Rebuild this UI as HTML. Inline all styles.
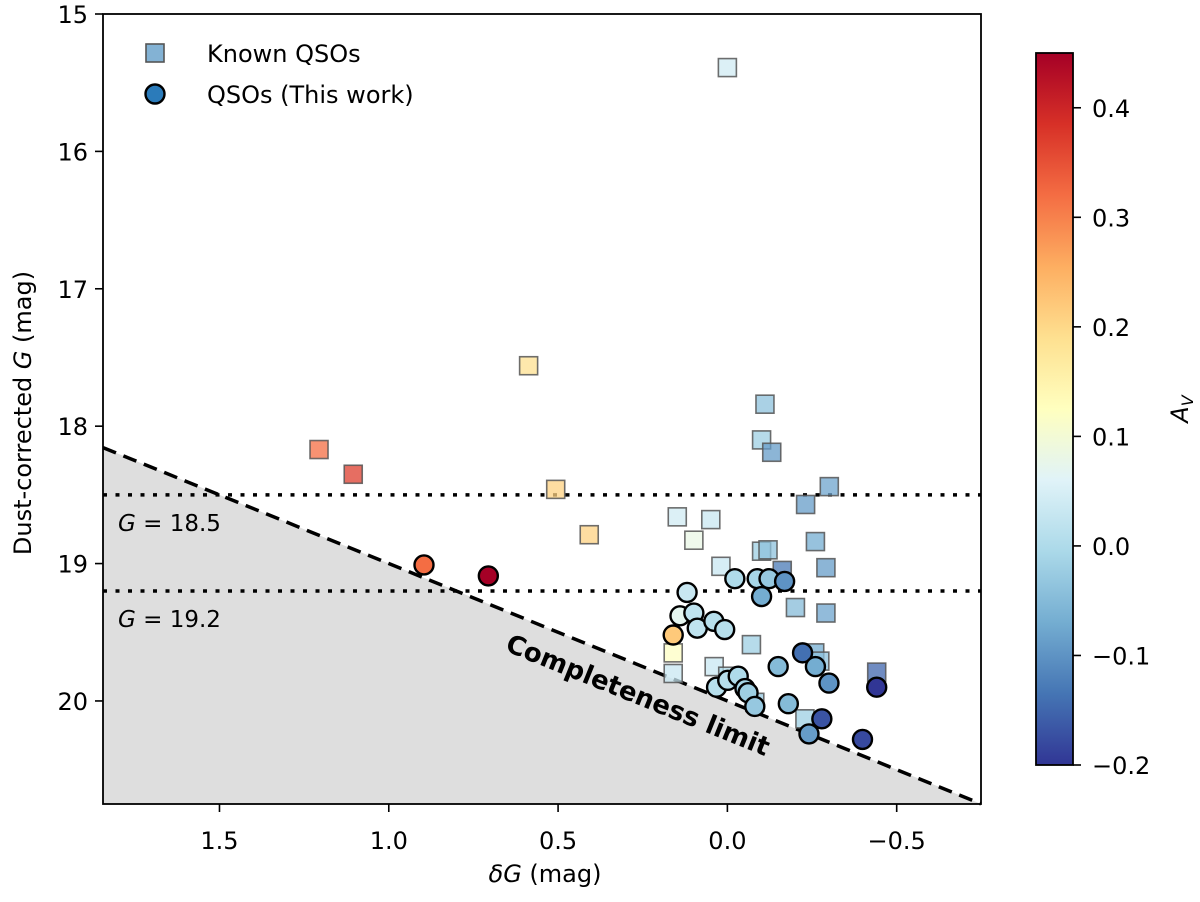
<!DOCTYPE html>
<html><head><meta charset="utf-8"><style>
body{margin:0;background:#fff;}
svg text{font-family:"DejaVu Sans","Liberation Sans",sans-serif;}
</style></head><body>
<svg id="chart" width="1200" height="897" xmlns="http://www.w3.org/2000/svg"></svg>
<script>
const xTicks=[1.5,1.0,0.5,0.0,-0.5];
const xTickLabels=["1.5","1.0","0.5","0.0","\u22120.5"];
const yTicks=[15,16,17,18,19,20];
const yTickLabels=["15","16","17","18","19","20"];
const cbTicks=[0.4,0.3,0.2,0.1,0.0,-0.1,-0.2];
const cbTickLabels=["0.4","0.3","0.2","0.1","0.0","\u22120.1","\u22120.2"];
const knownDG=[0.00,0.587,1.206,1.105,0.507,0.408,-0.111,-0.101,-0.131,-0.301,-0.231,0.148,0.049,0.099,-0.260,0.019,-0.101,-0.120,-0.162,-0.291,-0.201,-0.291,-0.071,0.160,0.160,0.039,-0.258,-0.273,-0.441,-0.229,-0.001,-0.081];
const knownG=[15.39,17.56,18.17,18.35,18.46,18.79,17.84,18.10,18.19,18.44,18.57,18.66,18.68,18.83,18.84,19.02,18.91,18.90,19.05,19.03,19.32,19.36,19.59,19.65,19.80,19.75,19.65,19.71,19.79,20.13,19.82,20.01];
const knownAV=[0.04,0.19,0.32,0.37,0.21,0.21,-0.04,-0.02,-0.09,-0.08,-0.09,0.04,0.03,0.08,-0.07,0.03,-0.02,-0.04,-0.13,-0.09,-0.05,-0.08,-0.02,0.12,0.03,0.03,-0.07,-0.04,-0.15,-0.02,0.0,-0.03];
const newDG=[0.119,0.140,0.099,0.089,0.040,0.008,0.160,-0.022,-0.088,-0.123,-0.169,-0.101,-0.150,-0.222,-0.260,-0.300,-0.441,0.032,-0.001,-0.032,-0.052,-0.061,-0.081,-0.180,-0.279,-0.241,-0.399,0.896,0.706];
const newG=[19.21,19.38,19.36,19.47,19.42,19.48,19.52,19.11,19.11,19.11,19.13,19.24,19.75,19.65,19.75,19.87,19.90,19.90,19.85,19.82,19.91,19.94,20.04,20.02,20.13,20.24,20.28,19.01,19.09];
const newAV=[0.03,0.07,0.02,0.02,0.01,0.01,0.22,0.0,-0.01,-0.03,-0.10,-0.07,-0.05,-0.14,-0.07,-0.10,-0.20,0.01,0.01,0.0,-0.01,-0.02,-0.03,-0.05,-0.17,-0.09,-0.18,0.32,0.45];
const limitLevels=[18.5,19.2];
const limitLabels=["18.5","19.2"];

const L=103,R=981,T=14,B=804;
const X0=1.844,X1=-0.749,Y0=15,Y1=20.75;
const sx=v=>L+(X0-v)/(X0-X1)*(R-L);
const sy=v=>T+(v-Y0)/(Y1-Y0)*(B-T);
const CBT=53,CBB=765,CBmin=-0.2,CBmax=0.45,CBL=1036,CBR=1073;
const sc=v=>CBB-(v-CBmin)/(CBmax-CBmin)*(CBB-CBT);
const stops=["#313695","#4575b4","#74add1","#abd9e9","#e0f3f8","#ffffbf","#fee090","#fdae61","#f46d43","#d73027","#a50026"];
function hex(h){return[1,3,5].map(i=>parseInt(h.substr(i,2),16));}
function cmap(v){let t=(v-CBmin)/(CBmax-CBmin);t=Math.max(0,Math.min(1,t));const p=t*10,i=Math.min(9,Math.floor(p)),f=p-i;const a=hex(stops[i]),b=hex(stops[i+1]);return "rgb("+a.map((c,k)=>Math.round(c+(b[k]-c)*f)).join(",")+")";}
const svg=document.getElementById('chart');const NS="http://www.w3.org/2000/svg";
function el(tag,attrs,parent,txt){const e=document.createElementNS(NS,tag);for(const k in attrs)e.setAttribute(k,attrs[k]);if(txt!==undefined)e.textContent=txt;(parent||svg).appendChild(e);return e;}

const sh=el('polygon',{points:`${L},${sy(20-X0)} ${R},${sy(20-X1)} ${R},${B} ${L},${B}`,fill:'#dedede'});


limitLevels.forEach((g,i)=>{
  const ln=el('line',{x1:L,x2:R,y1:sy(g),y2:sy(g),stroke:'#000','stroke-width':3.5,'stroke-dasharray':'4,8.5'});
  
  
  const t=el('text',{x:118,y:sy(g)+36,'font-size':23});
  
  
  el('tspan',{'font-style':'italic'},t,'G');el('tspan',{},t,' = '+limitLabels[i]);
});
const ang=Math.atan((sy(1)-sy(0))/(sx(0)-sx(1)))*180/Math.PI;
const ct=el('text',{x:0,y:9,'font-size':26,'font-weight':'bold','text-anchor':'middle',transform:`translate(638,695) rotate(${ang})`},svg,'Completeness limit');


const cl=el('line',{x1:L,y1:sy(20-X0),x2:R,y2:sy(20-X1),stroke:'#000','stroke-width':3.5,'stroke-dasharray':'14,8'});



knownDG.forEach((d,i)=>{
  const r=el('rect',{x:sx(d)-9,y:sy(knownG[i])-9,width:18,height:18,fill:cmap(knownAV[i]),'fill-opacity':0.75,stroke:'#555','stroke-opacity':0.85,'stroke-width':1.6});
  
  
});
newDG.forEach((d,i)=>{
  const c=el('circle',{cx:sx(d),cy:sy(newG[i]),r:9.5,fill:cmap(newAV[i]),stroke:'#000','stroke-width':2.4});
  
  
});

const fr=el('rect',{x:L,y:T,width:R-L,height:B-T,fill:'none',stroke:'#000','stroke-width':1.8});


xTicks.forEach((v,i)=>{
  el('line',{x1:sx(v),x2:sx(v),y1:B,y2:B+8,stroke:'#000','stroke-width':1.6});
  const t=el('text',{x:sx(v),y:B+45,'font-size':24,'text-anchor':'middle'},svg,xTickLabels[i]);
  
  
});
yTicks.forEach((v,i)=>{
  el('line',{x1:L-8,x2:L,y1:sy(v),y2:sy(v),stroke:'#000','stroke-width':1.6});
  const t=el('text',{x:L-15,y:sy(v)+9,'font-size':24,'text-anchor':'end'},svg,yTickLabels[i]);
  
  
});
const xl=el('text',{x:545,y:882,'font-size':24,'text-anchor':'middle','font-family':'Liberation Sans, sans-serif'});


el('tspan',{'font-style':'italic'},xl,'\u03b4G');el('tspan',{},xl,' (mag)');
const yl=el('text',{x:0,y:0,'font-size':24,'text-anchor':'middle','font-family':'Liberation Sans, sans-serif',transform:'translate(31,413) rotate(-90)'});


el('tspan',{},yl,'Dust-corrected ');el('tspan',{'font-style':'italic'},yl,'G');el('tspan',{},yl,' (mag)');

const lg=el('g',{});


const ls=el('rect',{x:146,y:44,width:18,height:18,fill:cmap(-0.08),'fill-opacity':0.85,stroke:'#555','stroke-width':1.6},lg);


const lt1=el('text',{x:207,y:62,'font-size':24},lg,'Known QSOs');


const lc=el('circle',{cx:155,cy:94,r:9.5,fill:'#2b7bba',stroke:'#000','stroke-width':2.4},lg);


const lt2=el('text',{x:207,y:103,'font-size':24},lg,'QSOs (This work)');



const defs=el('defs',{});
const gr=el('linearGradient',{id:'cbg',x1:0,y1:1,x2:0,y2:0},defs);
stops.forEach((s,i)=>el('stop',{offset:(i*10)+'%','stop-color':s},gr));
const cb=el('rect',{x:CBL,y:CBT,width:CBR-CBL,height:CBB-CBT,fill:'url(#cbg)',stroke:'#000','stroke-width':1.8});


cbTicks.forEach((v,i)=>{
  el('line',{x1:CBR,x2:CBR+8,y1:sc(v),y2:sc(v),stroke:'#000','stroke-width':1.6});
  const t=el('text',{x:CBR+19,y:sc(v)+9,'font-size':24},svg,cbTickLabels[i]);
  
  
});
const cbl=el('text',{x:0,y:0,'font-size':24,'text-anchor':'middle','font-style':'italic',transform:'translate(1188,409) rotate(-90)'});


el('tspan',{},cbl,'A');el('tspan',{'font-size':16,dy:5},cbl,'V');
</script>
</body></html>
